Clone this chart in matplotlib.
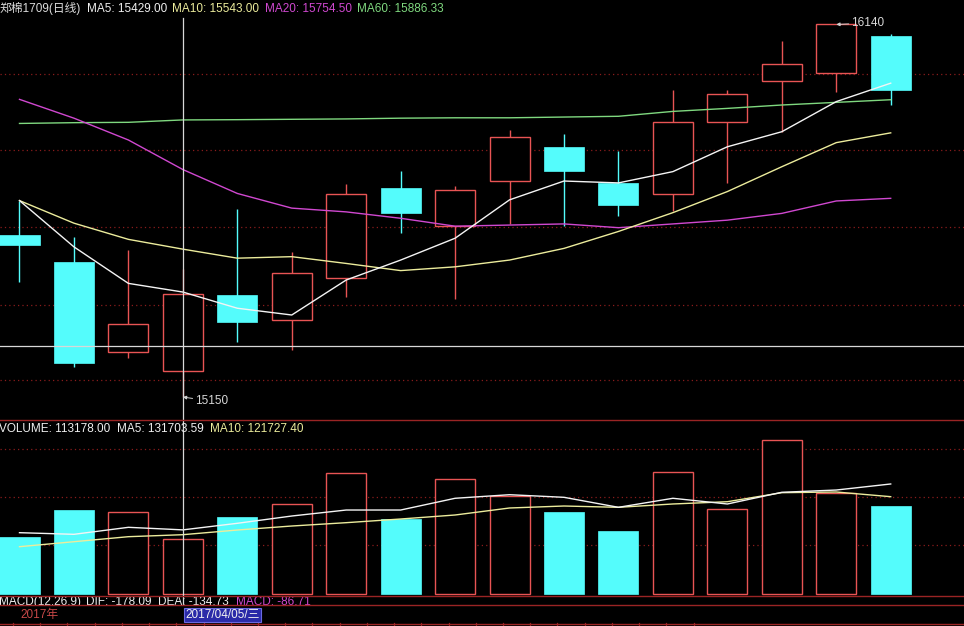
import numpy as np
import matplotlib
matplotlib.use("Agg")
import matplotlib.pyplot as plt
from matplotlib.patches import Rectangle
from matplotlib.lines import Line2D

plt.rcParams['font.family'] = ['Liberation Sans', 'Noto Sans CJK SC']

# daily bars, 郑棉1709
opens  = [15580, 15510, 15270, 15220, 15420, 15355, 15465, 15705, 15605, 15725, 15815, 15720, 15690, 15880, 15990, 16010, 16110]
closes = [15555, 15240, 15345, 15425, 15350, 15480, 15690, 15640, 15700, 15840, 15750, 15660, 15880, 15955, 16035, 16140, 15965]
highs  = [15670, 15575, 15540, 15490, 15650, 15535, 15715, 15750, 15710, 15860, 15850, 15805, 15965, 15965, 16095, 16140, 16115]
lows   = [15455, 15230, 15255, 15150, 15295, 15275, 15415, 15585, 15410, 15610, 15605, 15630, 15645, 15720, 15855, 15960, 15925]

ma5  = [15672, 15549, 15452, 15429.00, 15386, 15368, 15461, 15514, 15572, 15674, 15724, 15719, 15749, 15815, 15855, 15935, 15984]
ma10 = [15672, 15612, 15569, 15543.00, 15519, 15523, 15505, 15486, 15496, 15514, 15545, 15590, 15640, 15696, 15762, 15826, 15852]
ma20 = [15941, 15891, 15833, 15754.50, 15691, 15652, 15642, 15625, 15604, 15607, 15610, 15600, 15610, 15620, 15638, 15671, 15678]
ma60 = [15877, 15879, 15880, 15886.33, 15887, 15888, 15889, 15891, 15892, 15892, 15894, 15896, 15909, 15917, 15926, 15933, 15940]

volumes  = [117600, 172800, 168100, 113178, 158400, 184600, 248800, 154200, 236400, 201800, 168700, 129400, 250900, 174300, 317100, 208700, 181100]
vol_ma5  = [125900, 122500, 137000, 131703.59, 145300, 160400, 172800, 172800, 197100, 204500, 199100, 178400, 197100, 185300, 209500, 214200, 226700]
vol_ma10 = [96900, 107200, 117600, 121727.40, 131400, 139700, 146600, 154200, 162500, 177000, 181100, 178400, 185300, 190000, 208700, 210100, 200400]

cursor_idx = 3
cursor_price = 15285
cursor_date = "2017/04/05/三"
macd_text = ["MACD(12,26,9)", "DIF: -178.09", "DEA: -134.73", "MACD: -86.71"]

price_grid = [16008, 15806, 15602, 15394, 15195]
vol_grid = [100000, 200000, 300000]

UP = '#e85454'
DOWN = '#54fcfc'
GRID = '#8a1c1c'
FRAME = '#9a2424'
BG = 'black'

W, H = 964, 626
fig = plt.figure(figsize=(W / 100, H / 100), dpi=100, facecolor=BG)

def fx(px):
    return px / W

def fy(py):
    return 1 - py / H

def panel(top, bottom):
    ax = fig.add_axes([0, fy(bottom), 1, (bottom - top) / H], facecolor=BG)
    ax.set_axis_off()
    ax.set_xlim(-0.358, 17.346)
    return ax

ax = panel(0, 420)
axv = panel(420, 596)
axm = panel(596, 605)
axd = panel(605, 626)

ax.set_ylim(15089, 16205)
axv.set_ylim(-5175, 359145)

n = len(opens)
x = np.arange(n)
bw = 0.735

for p in price_grid:
    ax.axhline(p, color=GRID, lw=0.9, ls=(0, (1, 2.5)), zorder=0)
for v in vol_grid:
    axv.axhline(v, color=GRID, lw=0.9, ls=(0, (1, 2.5)), zorder=0)

# candles: hollow red for up days, solid cyan for down days
for i in range(n):
    o, c, h, l = opens[i], closes[i], highs[i], lows[i]
    up = c >= o
    col = UP if up else DOWN
    ax.plot([i, i], [l, h], color=col, lw=1.0, zorder=1, solid_capstyle='butt')
    lo, hi = min(o, c), max(o, c)
    if up:
        ax.add_patch(Rectangle((i - bw / 2, lo), bw, hi - lo, facecolor=BG,
                               edgecolor=col, lw=1.0, zorder=2))
        axv.add_patch(Rectangle((i - bw / 2, 0), bw, volumes[i], facecolor=BG,
                                edgecolor=col, lw=1.0, zorder=2))
    else:
        ax.add_patch(Rectangle((i - bw / 2, lo), bw, hi - lo, facecolor=col,
                               edgecolor=col, lw=0.5, zorder=2))
        axv.add_patch(Rectangle((i - bw / 2, 0), bw, volumes[i], facecolor=col,
                                edgecolor=col, lw=0.5, zorder=2))

ax.plot(x, ma60, color='#7fd87f', lw=1.0, zorder=3)
ax.plot(x, ma20, color='#d048d0', lw=1.0, zorder=3)
ax.plot(x, ma10, color='#ecec9c', lw=1.0, zorder=3)
ax.plot(x, ma5, color='#f4f4f4', lw=1.0, zorder=3)

axv.plot(x, vol_ma10, color='#ecec9c', lw=1.0, zorder=3)
axv.plot(x, vol_ma5, color='#f4f4f4', lw=1.0, zorder=3)

# crosshair
ax.axvline(cursor_idx, ymax=1 - 18 / 420, color='#d8d8d8', lw=0.9, zorder=4)
axv.axvline(cursor_idx, color='#d8d8d8', lw=0.9, zorder=4)
axm.axvline(cursor_idx, color='#d8d8d8', lw=0.9, zorder=4)
ax.axhline(cursor_price, color='#d8d8d8', lw=0.9, zorder=4)

# high / low markers
hi_i = int(np.argmax(highs))
lo_i = int(np.argmin(lows))
arrow = dict(arrowstyle='-|>', color='#d0d0d0', lw=0.7, mutation_scale=5,
             shrinkA=0, shrinkB=0)
ax.annotate(f"{highs[hi_i]}", xy=(hi_i, highs[hi_i]), xytext=(11, 1),
            textcoords='offset points', color='#d8d8d8', fontsize=8.5,
            va='center', ha='left', arrowprops=arrow, zorder=5)
ax.annotate(f"{lows[lo_i]}", xy=(lo_i, lows[lo_i]), xytext=(9, -3),
            textcoords='offset points', color='#d8d8d8', fontsize=8.5,
            va='center', ha='left', arrowprops=arrow, zorder=5)

# panel frames
for py in [420, 596, 605, 624]:
    fig.add_artist(Line2D([0, 1], [fy(py), fy(py)], transform=fig.transFigure,
                          color=FRAME, lw=1.0))
for t in np.arange(-0.12, 12.6, 0.5):
    axd.plot([t, t], [0, 0.12], color=FRAME, lw=0.9)
axd.set_ylim(0, 1)

# header lines
fs = 8.5
head = [(0, "郑棉1709(日线)", '#dcdcdc'),
        (87, f"MA5: {ma5[cursor_idx]:.2f}", '#f0f0f0'),
        (172, f"MA10: {ma10[cursor_idx]:.2f}", '#ecec9c'),
        (265, f"MA20: {ma20[cursor_idx]:.2f}", '#d048d0'),
        (357, f"MA60: {ma60[cursor_idx]:.2f}", '#7fd87f')]
for px, s, c in head:
    fig.text(fx(px), fy(8.5), s, color=c, fontsize=fs, va='center', ha='left')

vhead = [(-1, f"VOLUME: {volumes[cursor_idx]:.2f}", '#f0f0f0'),
         (117, f"MA5: {vol_ma5[cursor_idx]:.2f}", '#f0f0f0'),
         (210, f"MA10: {vol_ma10[cursor_idx]:.2f}", '#ecec9c')]
for px, s, c in vhead:
    fig.text(fx(px), fy(428.5), s, color=c, fontsize=fs, va='center', ha='left')

mcols = ['#f0f0f0', '#f0f0f0', '#f0f0f0', '#d048d0']
for px, s, c in zip([-1, 86, 158, 236], macd_text, mcols):
    axm.text(fx(px), 0.35, s, color=c, fontsize=fs, va='center', ha='left',
             transform=axm.transAxes, clip_on=True)

axd.text(fx(20), 0.52, "2017年", color='#c84848', fontsize=fs, va='center',
         ha='left', transform=axd.transAxes)
axd.text(fx(185), 0.52, cursor_date, color='#f0f0f0', fontsize=fs, va='center',
         ha='left', transform=axd.transAxes,
         bbox=dict(boxstyle='square,pad=0.12', facecolor='#2a2aa8',
                   edgecolor='#6a6ae0', lw=0.8))

fig.savefig("out.png", dpi=100, facecolor=BG)
